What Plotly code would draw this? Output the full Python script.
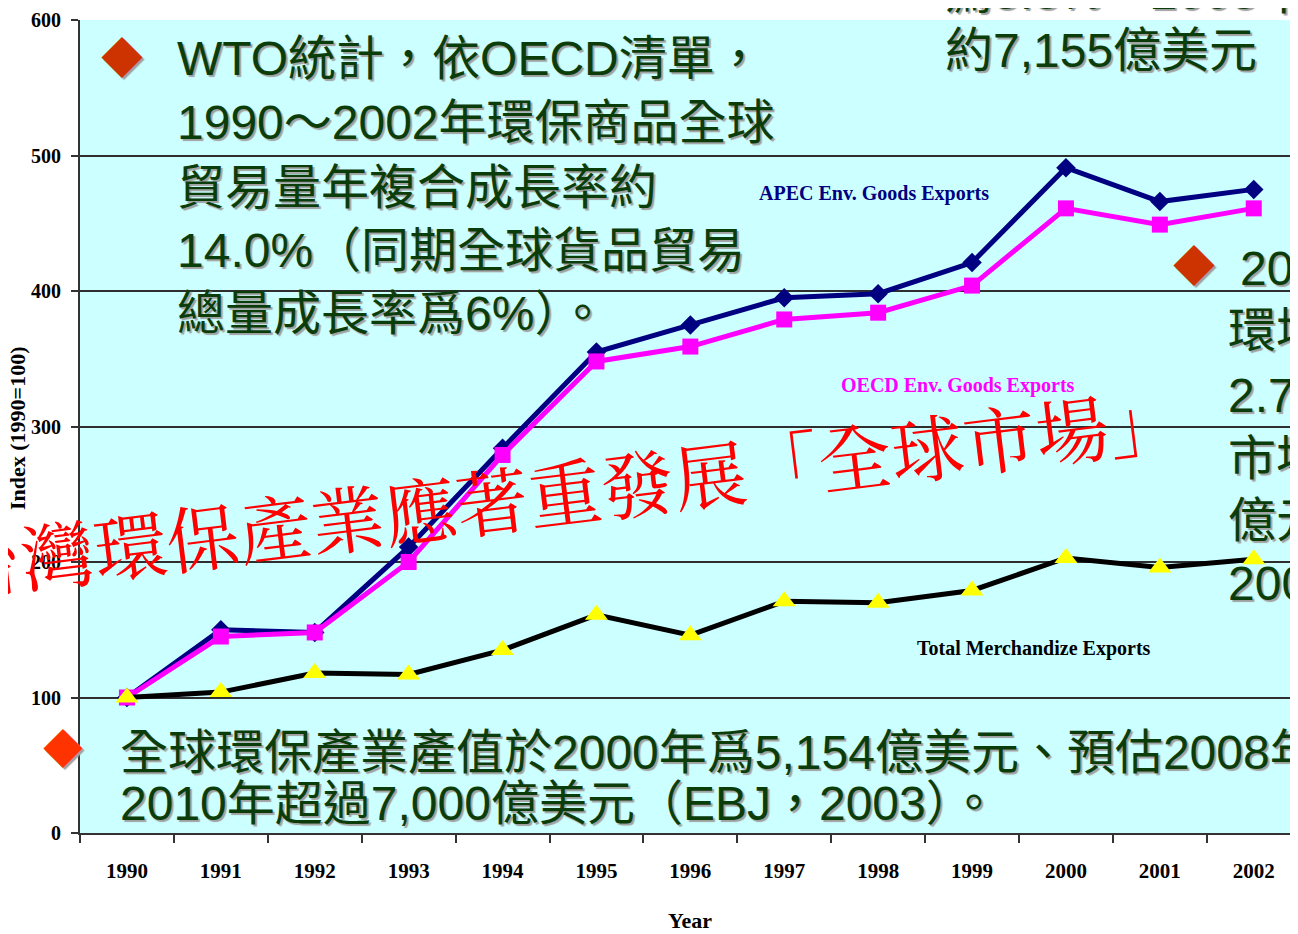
import plotly.graph_objects as go

# ---------------- data ----------------
years = ["1990", "1991", "1992", "1993", "1994", "1995", "1996",
         "1997", "1998", "1999", "2000", "2001", "2002"]
apec_env_goods = [100, 150, 148, 211, 284, 355, 375, 395, 398, 421, 491, 466, 475]
oecd_env_goods = [100, 145, 148, 200, 279, 348, 359, 379, 384, 404, 461, 449, 461]
total_merch = [100, 104, 118, 117, 135, 161, 146, 171, 170, 179, 203, 196, 202]

y_ticks = [0, 100, 200, 300, 400, 500, 600]

label_apec = "APEC Env. Goods Exports"
label_oecd = "OECD Env. Goods Exports"
label_total = "Total Merchandize Exports"

text_top_left = ["WTO統計，依OECD清單，",
                 "1990～2002年環保商品全球",
                 "貿易量年複合成長率約",
                 "14.0%（同期全球貨品貿易",
                 "總量成長率爲6%）。"]
text_top_right = ["爲5.8%，2003年",
                  "約7,155億美元（"]
text_right = ["2003年", "環境保", "2.7%", "市場規", "億元", "2003"]
text_bottom = ["全球環保產業產值於2000年爲5,154億美元、預估2008年",
               "2010年超過7,000億美元（EBJ，2003）。"]
watermark = "台灣環保產業應著重發展「全球市場」"

# ---------------- layout geometry ----------------
# page body has an 8px margin -> work in screen pixels and subtract it
OX, OY = 8, 8
W, H = 1298, 934
PLOT_LEFT, PLOT_TOP, PLOT_BOTTOM = 80, 20, 833   # screen pixels
ML = PLOT_LEFT - OX
MT = PLOT_TOP - OY
MB = H - (PLOT_BOTTOM - OY)
MR = 0
PW = W - ML - MR
PH = H - MT - MB
CAT_W = 93.9
x_end = -0.5 + PW / CAT_W


def px(x):
    return (x - OX - ML) / PW


def py(y):
    return (H - MB - (y - OY)) / PH


GREEN = "#0B3D0B"
SHADOW = "2px 2px 1px #a0a0a0"
SANS = "Liberation Sans, Arial, Noto Sans CJK TC, sans-serif"
SERIF = "Liberation Serif, Times New Roman, serif"
CJK_SERIF = "Noto Serif CJK TC, Noto Sans CJK TC, serif"

fig = go.Figure()

fig.add_trace(go.Scatter(
    x=years, y=apec_env_goods, mode="lines+markers", name=label_apec,
    line=dict(color="#000080", width=5),
    marker=dict(symbol="diamond", size=15, color="#000080",
                line=dict(width=0)),
))
fig.add_trace(go.Scatter(
    x=years, y=oecd_env_goods, mode="lines+markers", name=label_oecd,
    line=dict(color="#FF00FF", width=5),
    marker=dict(symbol="square", size=16, color="#FF00FF",
                line=dict(width=0)),
))
fig.add_trace(go.Scatter(
    x=years, y=total_merch, mode="lines+markers", name=label_total,
    line=dict(color="#000000", width=5),
    marker=dict(symbol="triangle-up", size=20, color="#FFFF00",
                line=dict(width=0)),
))

ann = []


def add_text(txt, x, y, size=48, color=GREEN, anchor="left", shadow=SHADOW,
             family=SANS, **kw):
    ann.append(dict(text=txt, x=px(x), y=py(y), xref="paper", yref="paper",
                    xanchor=anchor, yanchor="middle", showarrow=False,
                    font=dict(family=family, size=size, color=color,
                              shadow=shadow), **kw))


# top-left paragraph
add_text("◆", 122, 58, size=42, color="#CC3300", anchor="center")
for t, yy in zip(text_top_left, [58, 123, 187, 250, 313]):
    add_text(t, 175, yy)

# top-right partial paragraph
add_text(text_top_right[0], 943, -8)
add_text(text_top_right[1], 943, 50)

# right column
add_text("◆", 1194, 266, size=42, color="#CC3300", anchor="center")
for t, xx, yy in zip(text_right, [1238, 1226, 1226, 1226, 1226, 1226],
                     [268, 330, 395, 458, 520, 583]):
    add_text(t, xx, yy)

# bottom paragraph
add_text("◆", 63, 750, size=40, color="#FF3300", anchor="center")
add_text(text_bottom[0], 118, 752)
add_text(text_bottom[1], 118, 803)

# series labels
add_text("<b>%s</b>" % label_apec, 874, 193, size=20, color="#000080",
         anchor="center", shadow="none", family=SERIF)
add_text("<b>%s</b>" % label_oecd, 958, 385, size=20, color="#FF00FF",
         anchor="center", shadow="none", family=SERIF)
add_text("<b>%s</b>" % label_total, 1034, 648, size=20, color="#000000",
         anchor="center", shadow="none", family=SERIF)

# axis titles
add_text("<b>Year</b>", 690, 920, size=22, color="#000000", anchor="center",
         shadow="none", family=SERIF)
ann.append(dict(text="<b>Index (1990=100)</b>", x=px(17), y=py(428),
                xref="paper", yref="paper", xanchor="center", yanchor="middle",
                showarrow=False, textangle=-90,
                font=dict(family=SERIF, size=22, color="#000000")))

# watermark
ann.append(dict(text=watermark, x=px(564), y=py(490), xref="paper",
                yref="paper", xanchor="center", yanchor="middle",
                showarrow=False, textangle=-7,
                font=dict(family=CJK_SERIF, size=73, color="#FF0000")))

fig.update_layout(
    width=W, height=H,
    margin=dict(l=ML, r=MR, t=MT, b=MB, pad=0),
    paper_bgcolor="#FFFFFF",
    plot_bgcolor="#CCFFFF",
    showlegend=False,
    annotations=ann,
    xaxis=dict(
        type="category", range=[-0.5, x_end],
        tickson="boundaries", ticks="outside", ticklen=8, tickwidth=2,
        tickcolor="#333333", showline=True, linecolor="#333333", linewidth=2,
        showgrid=False, zeroline=False, ticklabelstandoff=18,
        tickfont=dict(family=SERIF, size=21, color="#000000", weight="bold"),
    ),
    yaxis=dict(
        range=[0, 600], tickvals=y_ticks, ticks="outside", ticklen=7,
        tickwidth=2, tickcolor="#333333", showline=True,
        linecolor="#333333", linewidth=2, showgrid=True,
        gridcolor="#2E2E2E", gridwidth=2, zeroline=False,
        ticklabelstandoff=6,
        tickfont=dict(family=SERIF, size=20, color="#000000", weight="bold"),
    ),
)

fig.write_html("out.html")
